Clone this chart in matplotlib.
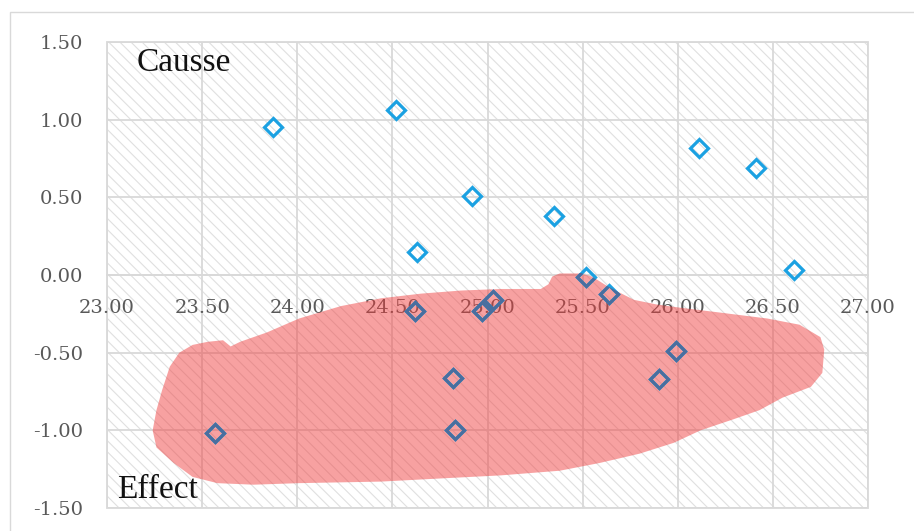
import matplotlib
matplotlib.use("Agg")
import matplotlib.pyplot as plt
from matplotlib.patches import Polygon, Rectangle
from matplotlib.ticker import FuncFormatter

# scatter values
x_vals = [23.87, 24.52, 24.92, 24.63, 25.35, 26.11, 26.41, 26.61,
          25.52, 25.64, 24.62, 24.97, 25.03, 24.82, 24.83, 25.99, 25.90, 23.57]
y_vals = [0.95, 1.06, 0.51, 0.15, 0.38, 0.82, 0.69, 0.03,
          -0.01, -0.12, -0.23, -0.23, -0.16, -0.66, -1.00, -0.49, -0.67, -1.02]

# hand-drawn "effect" highlight outline (data units)
blob_x = [23.24, 23.26, 23.29, 23.33, 23.38, 23.45, 23.53, 23.61, 23.65, 23.70,
          23.84, 24.01, 24.23, 24.44, 24.65, 24.86, 25.07, 25.28, 25.32, 25.34,
          25.38, 25.49, 25.55, 25.64, 25.77, 25.89, 26.01, 26.21, 26.47, 26.64,
          26.75, 26.77, 26.76, 26.70, 26.55, 26.43, 26.29, 26.12, 25.98, 25.80,
          25.59, 25.38, 25.07, 24.75, 24.44, 24.01, 23.77, 23.58, 23.45, 23.35,
          23.26]
blob_y = [-1.00, -0.87, -0.74, -0.59, -0.50, -0.45, -0.43, -0.42, -0.46, -0.43,
          -0.37, -0.28, -0.20, -0.15, -0.12, -0.10, -0.09, -0.09, -0.06, -0.01,
          0.01, 0.01, -0.01, -0.08, -0.16, -0.19, -0.21, -0.24, -0.28, -0.32,
          -0.40, -0.48, -0.63, -0.72, -0.79, -0.87, -0.93, -1.00, -1.08, -1.15,
          -1.21, -1.26, -1.29, -1.31, -1.33, -1.34, -1.35, -1.34, -1.30, -1.21,
          -1.11]

x_ticks = [23.0, 23.5, 24.0, 24.5, 25.0, 25.5, 26.0, 26.5, 27.0]
y_ticks = [-1.5, -1.0, -0.5, 0.0, 0.5, 1.0, 1.5]

GRID = '#D9D9D9'
BLUE = '#1BA1E2'
SLATE = '#4A6E9E'

plt.rcParams['font.family'] = 'DejaVu Serif'
plt.rcParams['hatch.linewidth'] = 0.8

fig = plt.figure(figsize=(9.14, 5.31), dpi=100)
ax = fig.add_axes([107/914, 1 - 508/531, 761/914, 466/531])

# chart outer frame
fig.add_artist(Rectangle((10/914, -0.5), 2, 1 - 12/531 + 0.5, transform=fig.transFigure,
                         fill=False, ec=GRID, lw=1.0))

ax.set_xlim(x_ticks[0], x_ticks[-1])
ax.set_ylim(y_ticks[0], y_ticks[-1])
ax.set_xticks(x_ticks)
ax.set_yticks(y_ticks)
fmt = FuncFormatter(lambda v, p: f"{v:.2f}".replace('\u2212', '-'))
ax.xaxis.set_major_formatter(fmt)
ax.yaxis.set_major_formatter(fmt)

# diagonal hatch fill of plot area
ax.add_patch(Rectangle((0, 0), 1, 1, transform=ax.transAxes, fill=False,
                       hatch='\\\\\\', ec='#E0E0E0', lw=0, zorder=0.4))

ax.grid(True, color=GRID, lw=1.3)
ax.set_axisbelow('line')

for s in ['left', 'right', 'top']:
    ax.spines[s].set_visible(False)
ax.spines['bottom'].set_position(('data', 0))
ax.spines['bottom'].set_color(GRID)
ax.spines['bottom'].set_linewidth(1.3)
ax.add_patch(Rectangle((0, 0), 1, 1, transform=ax.transAxes, fill=False,
                       ec=GRID, lw=1.3, clip_on=False, zorder=1))

ax.tick_params(axis='both', length=0, labelsize=14, labelcolor='#595959')
ax.tick_params(axis='x', pad=17)
ax.tick_params(axis='y', pad=17)

blob = Polygon(list(zip(blob_x, blob_y)), closed=True, fc='#F03C3C', ec='none',
               alpha=0.48, zorder=3)
ax.add_patch(blob)

ax.plot(x_vals, y_vals, ls='none', marker='D', ms=9, mfc='none', mec=BLUE,
        mew=2.3, zorder=4, clip_on=False)
inside, = ax.plot(x_vals, y_vals, ls='none', marker='D', ms=9, mfc='none', mec=SLATE,
                  mew=2.3, zorder=5)
inside.set_clip_path(blob)

ax.text(0.039, 0.955, 'Causse', transform=ax.transAxes, fontsize=24,
        family='Liberation Serif', color='#111111', va='center', ha='left', zorder=6)
ax.text(0.013, 0.039, 'Effect', transform=ax.transAxes, fontsize=24,
        family='Liberation Serif', color='#111111', va='center', ha='left', zorder=6)

fig.savefig('out.png', dpi=100)
